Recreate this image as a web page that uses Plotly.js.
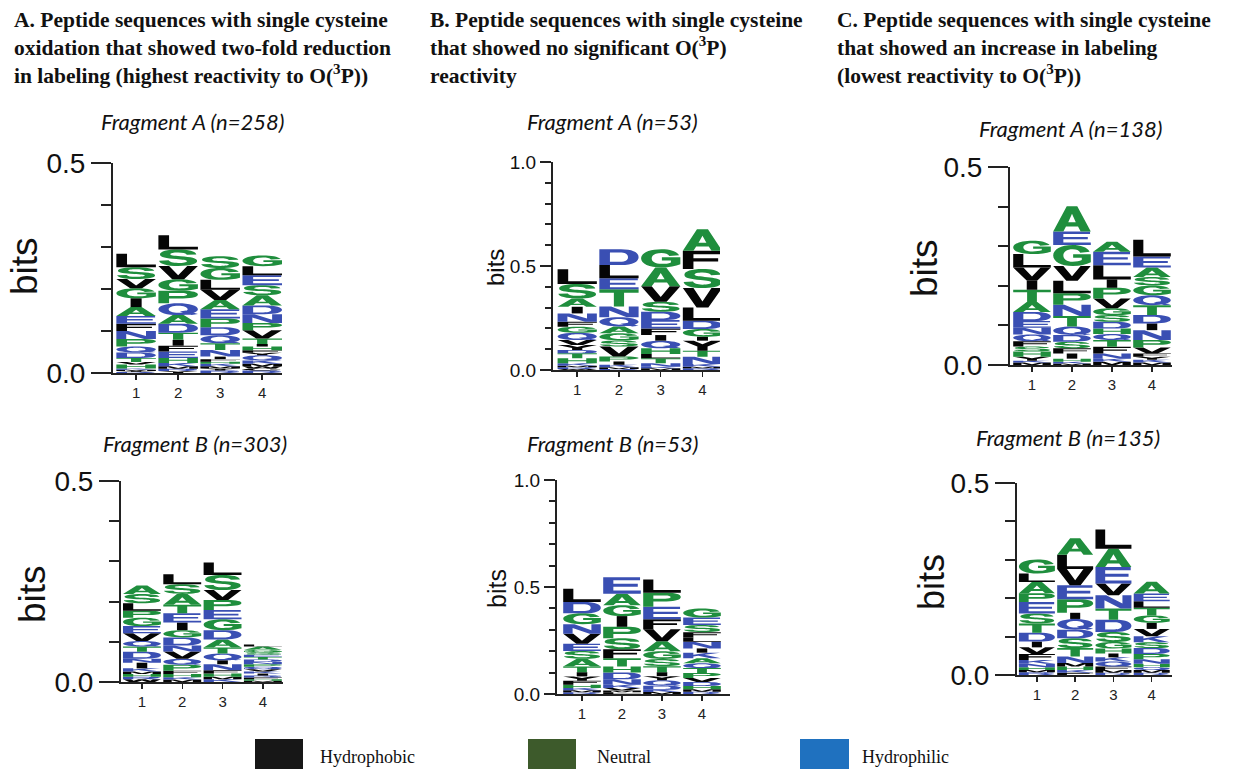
<!DOCTYPE html>
<html>
<head>
<meta charset="utf-8">
<script src="https://cdn.plot.ly/plotly-3.0.1.min.js"></script>
<style>html,body{margin:0;padding:0;background:#fff;}#chart{width:1255px;height:769px;}</style>
</head>
<body>
<div id="chart"></div>
<script>
// ---------------- DATA (letters listed top -> bottom, heights in bits) ----------------
const positions = [1, 2, 3, 4];

// Column A: two-fold reduction (highest reactivity)
const aFragASeq  = ["LSVGIAEFNPQDTVHKMYR", "LSVGPQADTIFEHKMRY", "SGLVAEPDQTNIFHKMYR", "GLESADNPVTIHFYQKMWCR"];
const aFragABits = [
  [.032,.028,.022,.024,.021,.021,.019,.017,.019,.018,.014,.013,.010,.006,.009,.003,.003,.0025,.0025],
  [.034,.039,.032,.027,.030,.028,.021,.021,.017,.014,.014,.015,.012,.008,.006,.005,.005],
  [.028,.028,.024,.024,.022,.022,.021,.019,.019,.016,.016,.006,.006,.005,.006,.005,.005,.006],
  [.026,.021,.024,.024,.024,.021,.021,.017,.020,.013,.006,.009,.006,.006,.012,.008,.006,.005,.005,.006]
];
const aFragBSeq  = ["ASLPGEVQTDNIKMHRW", "LSATEIGDNVQPFHKM", "LSVPEGDATQINFHMK", "LAGSETDNPQVKIRFHM"];
const aFragBBits = [
  [.021,.023,.019,.017,.021,.018,.019,.014,.013,.017,.010,.014,.008,.006,.007,.006,.007],
  [.025,.024,.027,.021,.023,.019,.018,.020,.015,.018,.015,.015,.008,.008,.006,.006],
  [.031,.037,.025,.025,.023,.027,.023,.020,.015,.017,.010,.015,.008,.008,.006,.007],
  [.005,.008,.006,.006,.006,.006,.006,.006,.006,.006,.006,.005,.005,.005,.004,.004,.003]
];

// Column B: no significant reactivity
const bFragASeq  = ["LSAINFGQVYDTHKMRW", "DLETNQAGSVPIKMR", "GAVSDEFIQHLTNKM", "AFSVLDGIYTNKMR"];
const bFragABits = [
  [.071,.069,.040,.032,.040,.024,.029,.035,.024,.024,.016,.024,.024,.011,.008,.008,.005],
  [.075,.064,.053,.083,.051,.045,.032,.035,.029,.048,.024,.016,.012,.008,.005],
  [.087,.090,.075,.048,.040,.040,.032,.027,.037,.027,.021,.024,.016,.008,.008],
  [.104,.088,.091,.093,.064,.040,.037,.019,.048,.029,.035,.013,.008,.008]
];
const bFragBSeq  = ["LDGNVESATIYFHKMR", "EAGIPSFTHDNKVML", "LPEFVAGSTIYQDKM", "GESFLNIKAQTPVDHMR"];
const bFragBBits = [
  [.062,.053,.051,.045,.046,.034,.036,.037,.026,.020,.020,.019,.015,.011,.009,.008],
  [.077,.054,.051,.050,.054,.051,.042,.039,.028,.031,.026,.015,.012,.008,.008],
  [.062,.065,.059,.046,.057,.046,.036,.034,.028,.019,.019,.025,.019,.011,.009],
  [.042,.034,.034,.025,.020,.031,.020,.026,.023,.023,.023,.023,.019,.019,.015,.011,.011]
];

// Column C: increase in labeling (lowest reactivity)
const cFragASeq  = ["GLVITADENQFSHYKM", "AEGVLPNTQDSFIHKM", "AELIPVGSDHQTFNKM", "LEASGQTDINPVFYKM"];
const cFragABits = [
  [.034,.034,.032,.024,.031,.025,.023,.017,.017,.017,.013,.013,.013,.010,.005,.006],
  [.064,.034,.053,.037,.032,.029,.028,.027,.021,.017,.017,.013,.013,.008,.004,.004],
  [.025,.034,.036,.021,.027,.025,.017,.017,.017,.014,.015,.017,.017,.013,.008,.008],
  [.042,.028,.024,.021,.025,.025,.025,.021,.017,.025,.019,.015,.008,.008,.007,.006]
];
const cFragBSeq  = ["GLAPESTDIVFKNHMR", "ALVEPIQDSTNMHKF", "LAEVNTDSGHIKQFMR", "AELTGIVKSDPNHQMR"];
const cFragBBits = [
  [.037,.022,.029,.023,.030,.026,.024,.023,.015,.017,.016,.010,.009,.007,.006,.007],
  [.043,.037,.042,.037,.035,.016,.028,.022,.026,.022,.017,.009,.009,.007,.006],
  [.050,.048,.043,.030,.035,.029,.032,.026,.017,.013,.010,.011,.013,.009,.007,.006],
  [.031,.020,.017,.020,.019,.016,.019,.016,.015,.015,.014,.012,.009,.007,.007,.006]
];

const headers = [
  "A. Peptide sequences with single cysteine<br>oxidation that showed two-fold reduction<br>in labeling (highest reactivity to O(<sup>3</sup>P))",
  "B. Peptide sequences with single cysteine<br>that showed no significant O(<sup>3</sup>P)<br>reactivity",
  "C. Peptide sequences with single cysteine<br>that showed an increase in labeling<br>(lowest reactivity to O(<sup>3</sup>P))"
];
const subtitles = ["Fragment A (n=258)", "Fragment A (n=53)", "Fragment A (n=138)",
                   "Fragment B (n=303)", "Fragment B (n=53)", "Fragment B (n=135)"];
const legendLabels = ["Hydrophobic", "Neutral", "Hydrophilic"];
const legendColors = ["#171717", "#3d5a2b", "#1f71bf"];

// ---------------- STYLE ----------------
const W = 1255, H = 769;
const letterColor = {};
"YVMCLFIW".split("").forEach(c => letterColor[c] = "#050505");
"SGHTAP".split("").forEach(c => letterColor[c] = "#1f8e3d");
"RKDENQ".split("").forEach(c => letterColor[c] = "#3a4fb3");

// glyph outlines in a unit box (y up)
const GLYPH = {
  L: "M0,0 L1,0 L1,0.2 L0.27,0.2 L0.27,1 L0,1 Z",
  I: "M0.36,0 L0.64,0 L0.64,1 L0.36,1 Z",
  T: "M0,1 L1,1 L1,0.8 L0.63,0.8 L0.63,0 L0.37,0 L0.37,0.8 L0,0.8 Z",
  E: "M0,0 L1,0 L1,0.19 L0.27,0.19 L0.27,0.42 L0.92,0.42 L0.92,0.6 L0.27,0.6 L0.27,0.81 L0.98,0.81 L0.98,1 L0,1 Z",
  F: "M0,0 L0.27,0 L0.27,0.42 L0.9,0.42 L0.9,0.6 L0.27,0.6 L0.27,0.81 L1,0.81 L1,1 L0,1 Z",
  H: "M0,0 L0.27,0 L0.27,0.42 L0.73,0.42 L0.73,0 L1,0 L1,1 L0.73,1 L0.73,0.61 L0.27,0.61 L0.27,1 L0,1 Z",
  N: "M0,0 L0.25,0 L0.25,0.62 L0.7,0 L1,0 L1,1 L0.75,1 L0.75,0.38 L0.3,1 L0,1 Z",
  M: "M0,0 L0.22,0 L0.22,0.7 L0.4,0 L0.6,0 L0.78,0.7 L0.78,0 L1,0 L1,1 L0.7,1 L0.5,0.3 L0.3,1 L0,1 Z",
  V: "M0.35,0 L0.65,0 L1,1 L0.73,1 L0.5,0.3 L0.27,1 L0,1 Z",
  A: "M0,0 L0.27,0 L0.34,0.2 L0.66,0.2 L0.73,0 L1,0 L0.64,1 L0.36,1 Z M0.4,0.37 L0.5,0.7 L0.6,0.37 Z",
  W: "M0.16,0 L0.37,0 L0.5,0.55 L0.63,0 L0.84,0 L1,1 L0.79,1 L0.72,0.4 L0.59,1 L0.41,1 L0.28,0.4 L0.21,1 L0,1 Z",
  Y: "M0.37,0 L0.63,0 L0.63,0.42 L1,1 L0.72,1 L0.5,0.63 L0.28,1 L0,1 L0.37,0.42 Z",
  K: "M0,0 L0.27,0 L0.27,0.33 L0.4,0.47 L0.72,0 L1,0 L0.57,0.64 L0.98,1 L0.64,1 L0.27,0.64 L0.27,1 L0,1 Z",
  D: "M0,0 L0.55,0 C0.86,0 1,0.22 1,0.5 C1,0.78 0.86,1 0.55,1 L0,1 Z M0.27,0.2 L0.27,0.8 L0.52,0.8 C0.68,0.8 0.73,0.66 0.73,0.5 C0.73,0.34 0.68,0.2 0.52,0.2 Z",
  P: "M0,0 L0.27,0 L0.27,0.38 L0.62,0.38 C0.88,0.38 1,0.52 1,0.69 C1,0.87 0.88,1 0.62,1 L0,1 Z M0.27,0.57 L0.27,0.81 L0.58,0.81 C0.68,0.81 0.73,0.76 0.73,0.69 C0.73,0.62 0.68,0.57 0.58,0.57 Z",
  R: "M0,0 L0.27,0 L0.27,0.4 L0.48,0.4 L0.72,0 L1,0 L0.74,0.44 C0.9,0.49 0.98,0.58 0.98,0.71 C0.98,0.88 0.86,1 0.6,1 L0,1 Z M0.27,0.58 L0.27,0.82 L0.57,0.82 C0.67,0.82 0.71,0.77 0.71,0.7 C0.71,0.63 0.67,0.58 0.57,0.58 Z",
  Q: "M0.5,0 C0.78,0 1,0.22 1,0.5 C1,0.78 0.78,1 0.5,1 C0.22,1 0,0.78 0,0.5 C0,0.22 0.22,0 0.5,0 Z M0.5,0.2 C0.36,0.2 0.26,0.33 0.26,0.5 C0.26,0.67 0.36,0.8 0.5,0.8 C0.64,0.8 0.74,0.67 0.74,0.5 C0.74,0.33 0.64,0.2 0.5,0.2 Z M0.84,0 L1,0.08 L0.7,0.38 L0.54,0.3 Z",
  C: "M0.97,0.33 C0.91,0.11 0.73,0 0.52,0 C0.2,0 0,0.22 0,0.5 C0,0.78 0.2,1 0.52,1 C0.73,1 0.91,0.89 0.97,0.67 L0.72,0.61 C0.69,0.73 0.62,0.8 0.52,0.8 C0.36,0.8 0.27,0.67 0.27,0.5 C0.27,0.33 0.36,0.2 0.52,0.2 C0.62,0.2 0.69,0.27 0.72,0.39 Z",
  G: "M0.97,0.68 C0.9,0.9 0.73,1 0.52,1 C0.2,1 0,0.78 0,0.5 C0,0.22 0.2,0 0.52,0 C0.72,0 0.88,0.07 1,0.18 L1,0.56 L0.53,0.56 L0.53,0.39 L0.76,0.39 L0.76,0.28 C0.7,0.22 0.62,0.2 0.52,0.2 C0.36,0.2 0.27,0.33 0.27,0.5 C0.27,0.67 0.36,0.8 0.52,0.8 C0.62,0.8 0.69,0.75 0.72,0.63 Z",
  S: "M0.96,0.7 C0.94,0.9 0.76,1 0.5,1 C0.22,1 0.04,0.88 0.04,0.7 C0.04,0.52 0.2,0.47 0.45,0.42 C0.62,0.38 0.72,0.36 0.72,0.29 C0.72,0.22 0.63,0.18 0.5,0.18 C0.36,0.18 0.28,0.24 0.26,0.34 L0.02,0.32 C0.03,0.12 0.22,0 0.5,0 C0.8,0 0.98,0.12 0.98,0.3 C0.98,0.48 0.83,0.54 0.56,0.59 C0.38,0.62 0.3,0.64 0.3,0.71 C0.3,0.78 0.38,0.82 0.5,0.82 C0.62,0.82 0.7,0.77 0.72,0.68 Z"
};

// panel layout (pixel boxes) : [xLeft, xRight], [yTop, yBottom]
const panels = [
  {seq: aFragASeq, bits: aFragABits, px: [113, 282], py: [163, 373], xr: [0.45, 4.47], ymax: 0.5, big: true},
  {seq: bFragASeq, bits: bFragABits, px: [553, 720], py: [162, 370], xr: [0.42, 4.42], ymax: 1.0, big: false},
  {seq: cFragASeq, bits: cFragABits, px: [1010, 1172], py: [167, 365], xr: [0.45, 4.5], ymax: 0.5, big: true},
  {seq: aFragBSeq, bits: aFragBBits, px: [121, 283], py: [481, 682], xr: [0.48, 4.5], ymax: 0.5, big: true},
  {seq: bFragBSeq, bits: bFragBBits, px: [557, 730], py: [480, 694], xr: [0.375, 4.7], ymax: 1.0, big: false},
  {seq: cFragBSeq, bits: cFragBBits, px: [1017, 1172], py: [483, 675], xr: [0.48, 4.53], ymax: 0.5, big: true}
];
const subPos = [[192, 122], [612, 122], [1070, 128], [195, 443], [612, 443], [1068, 437]];
const bitsPos = [[24, 266, 37], [495, 268, 24], [924, 268, 37], [32, 594, 37], [497, 589, 25], [931, 582, 36]];

// ---------------- BUILD ----------------
const traces = [], shapes = [], annotations = [];
const layout = {
  width: W, height: H, margin: {l: 0, r: 0, t: 0, b: 0},
  paper_bgcolor: "#fff", plot_bgcolor: "rgba(0,0,0,0)",
  showlegend: false, font: {family: "Liberation Sans, Arial, sans-serif", color: "#111"}
};

function glyphPath(ch, xc, w, y0, h) {
  return GLYPH[ch].replace(/(-?[\d.]+),(-?[\d.]+)/g, (m, a, b) =>
    (xc - w / 2 + parseFloat(a) * w).toFixed(4) + "," + (y0 + parseFloat(b) * h).toFixed(5));
}

panels.forEach((p, i) => {
  const sfx = i === 0 ? "" : String(i + 1);
  const xa = "x" + sfx, ya = "y" + sfx;
  const totals = p.bits.map(col => col.reduce((s, v) => s + v, 0));
  traces.push({type: "bar", x: positions, y: totals, xaxis: xa, yaxis: ya,
    marker: {color: "rgba(0,0,0,0)"}, hoverinfo: "skip", width: 0.94});

  p.seq.forEach((s, j) => {
    let base = 0;
    for (let k = s.length - 1; k >= 0; k--) {
      const ch = s[k], h = p.bits[j][k];
      shapes.push({type: "path", xref: xa, yref: ya, layer: "above",
        path: glyphPath(ch, positions[j], 0.94, base, h),
        fillcolor: letterColor[ch], fillrule: "nonzero", line: {width: 0}});
      base += h;
    }
  });

  const yticks = p.ymax === 1 ? [0, 0.5, 1] : [0, 0.5];
  layout["xaxis" + sfx] = {
    domain: [p.px[0] / W, p.px[1] / W], anchor: ya, range: p.xr, fixedrange: true,
    tickvals: positions, ticktext: positions.map(String), ticks: "outside", ticklen: 5, tickwidth: 1.5,
    tickcolor: "#222", showline: true, linewidth: 2, linecolor: "#222",
    showgrid: false, zeroline: false, tickfont: {size: 15, color: "#222"}
  };
  layout["yaxis" + sfx] = {
    domain: [1 - p.py[1] / H, 1 - p.py[0] / H], anchor: xa, range: [0, p.ymax], fixedrange: true,
    tickvals: yticks, ticktext: yticks.map(v => v.toFixed(1)), ticks: "outside",
    ticklen: p.big ? 20 : 11, tickwidth: 2, tickcolor: "#222",
    minor: {dtick: 0.1, tick0: 0, ticks: "outside", ticklen: p.big ? 10 : 6, tickwidth: 2, tickcolor: "#222"},
    showline: true, linewidth: 2, linecolor: "#222", showgrid: false, zeroline: false,
    tickfont: {size: p.big ? 28 : 19, color: "#111"}
  };

  annotations.push({xref: "paper", yref: "paper", x: subPos[i][0] / W, y: 1 - subPos[i][1] / H,
    xanchor: "center", yanchor: "middle", showarrow: false, text: "<i>" + subtitles[i] + "</i>",
    font: {family: "Lato, Noto Sans, sans-serif", size: 22, color: "#111"}});
  annotations.push({xref: "paper", yref: "paper", x: bitsPos[i][0] / W, y: 1 - bitsPos[i][1] / H,
    xanchor: "center", yanchor: "middle", showarrow: false, text: "bits", textangle: -90,
    font: {family: "Liberation Sans, Arial, sans-serif", size: bitsPos[i][2], color: "#111"}});
});

const headerX = [12, 428, 835];
headers.forEach((t, i) => annotations.push({xref: "paper", yref: "paper", x: headerX[i] / W, y: 1 - 6 / H,
  xanchor: "left", yanchor: "top", align: "left", showarrow: false, text: "<b>" + t + "</b>",
  font: {family: "Liberation Serif, Times New Roman, serif", size: 21.5, color: "#111"}}));

// legend boxes
const legX = [[255, 303, 318], [528, 576, 595], [800, 849, 860]];
legendLabels.forEach((lab, i) => {
  shapes.push({type: "rect", xref: "paper", yref: "paper", x0: legX[i][0] / W, x1: legX[i][1] / W,
    y0: 0, y1: 1 - 739 / H, fillcolor: legendColors[i], line: {width: 0}});
  annotations.push({xref: "paper", yref: "paper", x: legX[i][2] / W, y: 1 - 757 / H,
    xanchor: "left", yanchor: "middle", showarrow: false, text: lab,
    font: {family: "Liberation Serif, Times New Roman, serif", size: 18, color: "#111"}});
});

layout.shapes = shapes;
layout.annotations = annotations;
Plotly.newPlot("chart", traces, layout, {displayModeBar: false, staticPlot: true});
</script>
</body>
</html>
